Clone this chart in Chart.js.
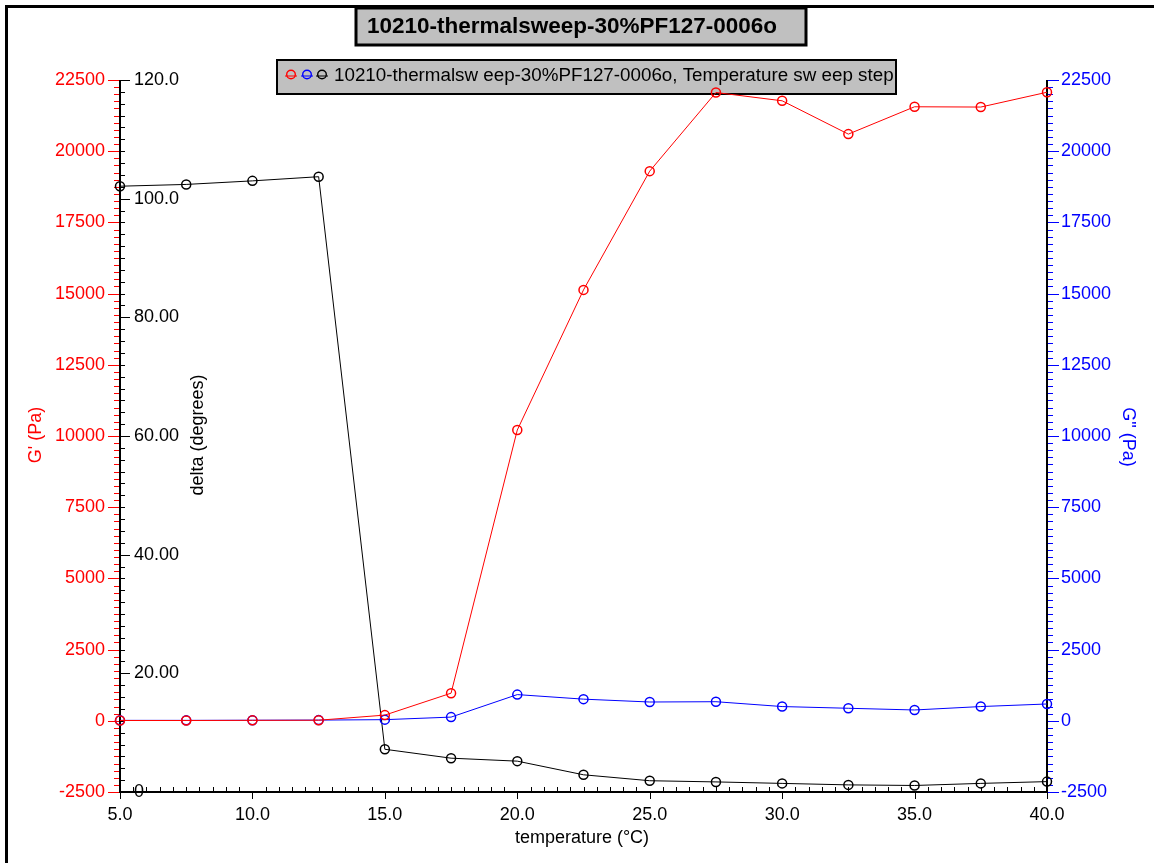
<!DOCTYPE html>
<html>
<head>
<meta charset="utf-8">
<script src="https://cdn.jsdelivr.net/npm/chart.js@4.4.1/dist/chart.umd.min.js"></script>
<style>
  body { margin: 0; background: #fff; }
  canvas { display: block; }
</style>
</head>
<body>
<canvas id="chart" width="1154" height="863"></canvas>
<script>
// Thermal sweep: G', G'' and delta against temperature

const temps   = [5.0, 7.5, 10.0, 12.5, 15.0, 17.5, 20.0, 22.5, 25.0, 27.5, 30.0, 32.5, 35.0, 37.5, 40.0];
const gPrime  = [10, 10, 15, 20, 200, 970, 10210, 15130, 19300, 22060, 21770, 20600, 21560, 21550, 22070];
const gDouble = [15, 15, 20, 25, 40, 130, 920, 760, 660, 670, 500, 440, 380, 500, 590];
const delta   = [102.1, 102.4, 103.0, 103.7, 7.2, 5.7, 5.2, 2.9, 1.9, 1.7, 1.45, 1.2, 1.1, 1.45, 1.75];

const gTicks          = [-2500, 0, 2500, 5000, 7500, 10000, 12500, 15000, 17500, 20000, 22500];
const deltaTicks      = [0, 20, 40, 60, 80, 100, 120];
const deltaTickLabels = ["0", "20.00", "40.00", "60.00", "80.00", "100.0", "120.0"];
const tempTicks       = [5, 10, 15, 20, 25, 30, 35, 40];

const chartTitle = "10210-thermalsweep-30%PF127-0006o";
const legendText = "10210-thermalsw eep-30%PF127-0006o, Temperature sw eep step";

const FONT = '"Liberation Sans", Arial, sans-serif';

function seg(ctx, x1, y1, x2, y2, color, w) {
  ctx.strokeStyle = color;
  ctx.lineWidth = w || 1;
  ctx.beginPath();
  ctx.moveTo(x1, y1);
  ctx.lineTo(x2, y2);
  ctx.stroke();
}

function vText(ctx, text, x, y, angle, color, font) {
  ctx.save();
  ctx.translate(x, y);
  ctx.rotate(angle);
  ctx.fillStyle = color;
  ctx.font = font;
  ctx.textAlign = "center";
  ctx.textBaseline = "middle";
  ctx.fillText(text, 0, 0);
  ctx.restore();
}

// ── Axes, frame, title and legend ─────────────────────────
const decorPlugin = {
  id: "decor",
  beforeDatasetsDraw(chart) {
    const ctx = chart.ctx;
    const { left, right, top, bottom } = chart.chartArea;
    const xs = chart.scales.x, yG = chart.scales.yG, yD = chart.scales.yD, yG2 = chart.scales.yG2;
    ctx.save();

    // outer frame
    ctx.strokeStyle = "#000";
    ctx.lineWidth = 3;
    ctx.beginPath();
    ctx.moveTo(6.5, 863);
    ctx.lineTo(6.5, 6.5);
    ctx.lineTo(1154, 6.5);
    ctx.stroke();

    // title box
    ctx.fillStyle = "#c0c0c0";
    ctx.fillRect(356, 8, 450, 37);
    ctx.lineWidth = 3;
    ctx.strokeRect(356, 8, 450, 37);
    ctx.fillStyle = "#000";
    ctx.font = "bold 22.5px " + FONT;
    ctx.textAlign = "center";
    ctx.textBaseline = "middle";
    ctx.fillText(chartTitle, 572, 27);

    // legend box
    ctx.fillStyle = "#c0c0c0";
    ctx.fillRect(277, 60, 619, 34);
    ctx.lineWidth = 2;
    ctx.strokeStyle = "#000";
    ctx.strokeRect(277, 60, 619, 34);
    [["#ff0000", 291], ["#0000ff", 307], ["#000000", 322]].forEach(([c, cx]) => {
      seg(ctx, cx - 6, 76, cx + 6, 76, c, 1);
      ctx.strokeStyle = c;
      ctx.lineWidth = 1.4;
      ctx.beginPath();
      ctx.arc(cx, 74.5, 4.3, 0, Math.PI * 2);
      ctx.stroke();
    });
    ctx.fillStyle = "#000";
    ctx.font = "18.8px " + FONT;
    ctx.textAlign = "left";
    ctx.textBaseline = "middle";
    ctx.fillText(legendText, 334, 76);

    // left G' ticks (red, outward), right G'' ticks (blue, outward)
    for (let v = -2500; v <= 22500; v += 250) {
      const y = Math.round(yG.getPixelForValue(v)) + 0.5;
      const major = v % 2500 === 0;
      seg(ctx, left - (major ? 12 : 6), y, left, y, "#ff0000", 1);
      seg(ctx, right, y, right + (major ? 12 : 6), y, "#0000ff", 1);
    }
    // delta ticks (black, inward)
    for (let v = 0; v <= 120; v += 2) {
      const y = Math.round(yD.getPixelForValue(v)) + 0.5;
      const major = v % 20 === 0;
      seg(ctx, left, y, left + (major ? 10 : 5), y, "#000", 1);
    }
    // temperature ticks
    for (let v = 5; v <= 40.001; v += 0.5) {
      const x = Math.round(xs.getPixelForValue(v)) + 0.5;
      const major = Math.abs(v % 5) < 0.001;
      if (major) seg(ctx, x, bottom, x, bottom + 7, "#000", 1);
      else seg(ctx, x, bottom - 5, x, bottom, "#000", 1);
    }

    // axis lines
    seg(ctx, left, top, left, bottom + 1, "#000", 2);
    seg(ctx, right, top, right, bottom + 1, "#000", 2);
    seg(ctx, left, bottom, right, bottom, "#000", 2);

    // tick labels
    ctx.font = "18px " + FONT;
    ctx.textBaseline = "middle";
    ctx.textAlign = "right";
    ctx.fillStyle = "#ff0000";
    gTicks.forEach(v => ctx.fillText(String(v), left - 15, yG.getPixelForValue(v)));
    ctx.textAlign = "left";
    ctx.fillStyle = "#0000ff";
    gTicks.forEach(v => ctx.fillText(String(v), right + 14, yG2.getPixelForValue(v)));
    ctx.fillStyle = "#000";
    deltaTicks.forEach((v, i) => ctx.fillText(deltaTickLabels[i], left + 14, yD.getPixelForValue(v)));
    ctx.textAlign = "center";
    tempTicks.forEach(v => ctx.fillText(v.toFixed(1), xs.getPixelForValue(v), bottom + 23));

    // axis titles
    const tf = "18px " + FONT;
    vText(ctx, "G' (Pa)", 36, 435, -Math.PI / 2, "#ff0000", tf);
    vText(ctx, "delta (degrees)", 198, 435, -Math.PI / 2, "#000", tf);
    vText(ctx, 'G" (Pa)', 1128, 437, Math.PI / 2, "#0000ff", tf);
    ctx.fillStyle = "#000";
    ctx.font = tf;
    ctx.textAlign = "center";
    ctx.fillText("temperature (\u00B0C)", 582, 838);

    ctx.restore();
  }
};

function series(values, color, axis) {
  return {
    data: temps.map((t, i) => ({ x: t, y: values[i] })),
    yAxisID: axis,
    borderColor: color,
    borderWidth: 1,
    pointRadius: 4.5,
    pointBorderWidth: 1.5,
    pointBorderColor: color,
    pointBackgroundColor: "rgba(0,0,0,0)",
    tension: 0,
    clip: false
  };
}

new Chart(document.getElementById("chart").getContext("2d"), {
  type: "line",
  data: {
    datasets: [
      series(gPrime, "#ff0000", "yG"),
      series(gDouble, "#0000ff", "yG2"),
      series(delta, "#000000", "yD")
    ]
  },
  options: {
    responsive: false,
    animation: false,
    layout: { padding: { left: 120, right: 107, top: 80, bottom: 71 } },
    plugins: { legend: { display: false }, title: { display: false }, tooltip: { enabled: false } },
    scales: {
      x:   { type: "linear", min: 5, max: 40, display: false },
      yG:  { type: "linear", position: "left", min: -2500, max: 22500, display: false },
      yD:  { type: "linear", position: "left", min: 0, max: 120, display: false },
      yG2: { type: "linear", position: "right", min: -2500, max: 22500, display: false }
    }
  },
  plugins: [decorPlugin]
});
</script>
</body>
</html>
